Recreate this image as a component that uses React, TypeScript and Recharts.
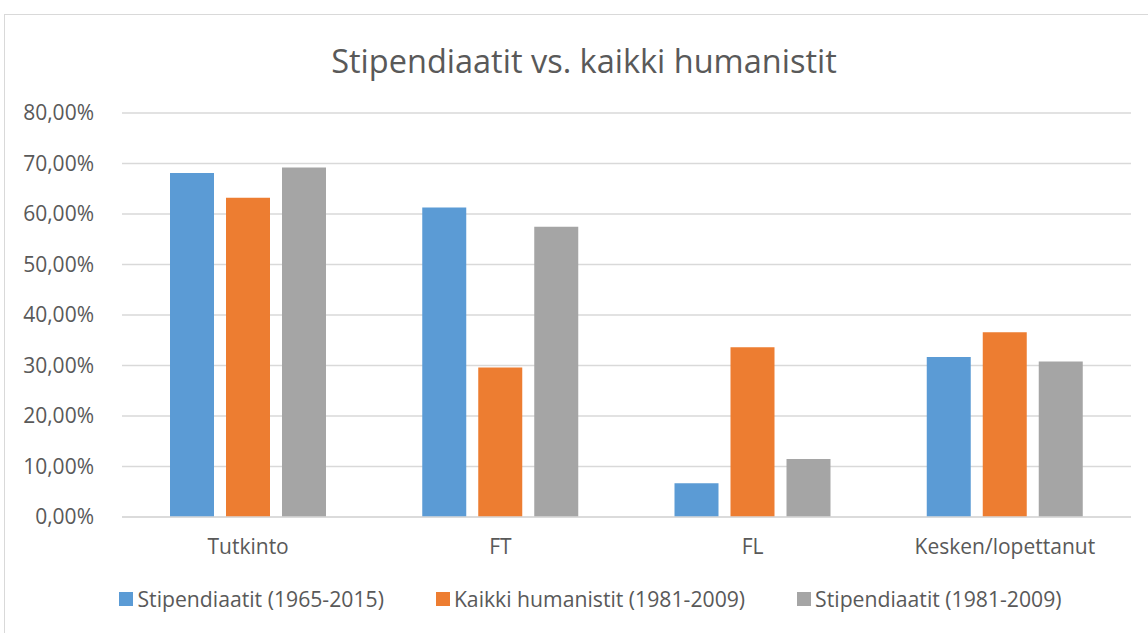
import React from "react";
import { BarChart, Bar, XAxis, YAxis, CartesianGrid, Legend } from "recharts";

const categories = ["Tutkinto", "FT", "FL", "Kesken/lopettanut"];
const stipendiaatit6515 = [68.1, 61.3, 6.7, 31.7];
const kaikkiHumanistit = [63.2, 29.6, 33.6, 36.6];
const stipendiaatit8109 = [69.2, 57.5, 11.5, 30.8];
const yTicks = [0, 10, 20, 30, 40, 50, 60, 70, 80];

const seriesNames = ["Stipendiaatit (1965-2015)", "Kaikki humanistit (1981-2009)", "Stipendiaatit (1981-2009)"];
const seriesColors = ["#5b9bd5", "#ed7d31", "#a5a5a5"];

const data = categories.map((name, i) => ({
  name,
  s1: stipendiaatit6515[i],
  k: kaikkiHumanistit[i],
  s2: stipendiaatit8109[i],
}));

const font = "'Open Sans', sans-serif";
const fmt = (v: number) => v.toFixed(2).replace(".", ",") + "%";

const renderLegend = () => (
  <div style={{ display: "flex", justifyContent: "center", fontSize: 21.2, color: "#595959", fontFamily: font, paddingLeft: 50 }}>
    {seriesNames.map((n, i) => (
      <div key={n} style={{ display: "flex", alignItems: "center", marginRight: i < 2 ? 52 : 0 }}>
        <span style={{ display: "inline-block", width: 14, height: 14, background: seriesColors[i], marginRight: 4 }} />
        <span>{n}</span>
      </div>
    ))}
  </div>
);

export default function App() {
  return (
    <div style={{ position: "absolute", left: 0, top: 0, width: 1148, height: 633, overflow: "hidden", background: "#fff", fontFamily: font }}>
      <div style={{ position: "absolute", left: 4, top: 14, width: 1200, height: 700, border: "1px solid #d9d9d9" }} />
      <div style={{ position: "absolute", left: 0, width: 1168, top: 38, textAlign: "center", fontSize: 32.5, color: "#595959" }}>
        Stipendiaatit vs. kaikki humanistit
      </div>
      <div style={{ position: "absolute", left: 0, top: 0 }}>
        <BarChart
          width={1148}
          height={633}
          data={data}
          margin={{ top: 113, right: 17, bottom: 0, left: 0 }}
          barCategoryGap={48}
          barGap={12}
        >
          <CartesianGrid vertical={false} stroke="#d9d9d9" strokeWidth={1.5} />
          <XAxis
            dataKey="name"
            height={87}
            axisLine={{ stroke: "#d9d9d9", strokeWidth: 1.5 }}
            tickLine={false}
            tick={{ fill: "#595959", fontSize: 21, fontFamily: font }}
            tickMargin={16}
          />
          <YAxis
            width={122}
            domain={[0, 80]}
            ticks={yTicks}
            interval={0}
            tickFormatter={fmt}
            axisLine={false}
            tickLine={false}
            tick={{ fill: "#595959", fontSize: 21, fontFamily: font }}
            tickMargin={22}
          />
          <Legend verticalAlign="bottom" wrapperStyle={{ bottom: 20 }} content={renderLegend} />
          <Bar dataKey="s1" name={seriesNames[0]} fill={seriesColors[0]} barSize={44} isAnimationActive={false} />
          <Bar dataKey="k" name={seriesNames[1]} fill={seriesColors[1]} barSize={44} isAnimationActive={false} />
          <Bar dataKey="s2" name={seriesNames[2]} fill={seriesColors[2]} barSize={44} isAnimationActive={false} />
        </BarChart>
      </div>
    </div>
  );
}
